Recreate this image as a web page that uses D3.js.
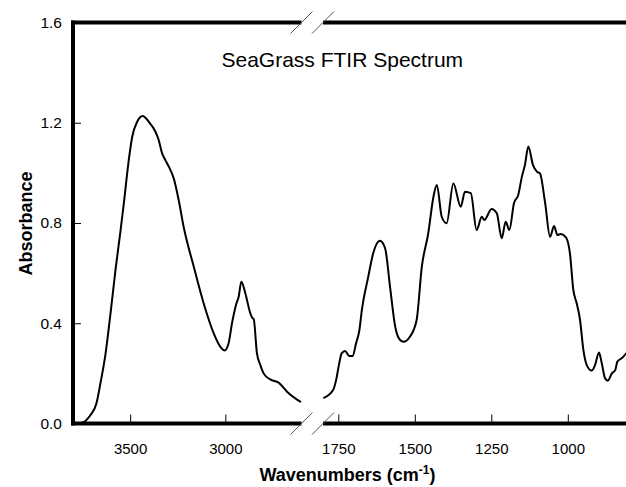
<!DOCTYPE html>
<html>
<head>
<meta charset="utf-8">
<script src="https://cdn.jsdelivr.net/npm/d3@7"></script>
<style>
  html, body { margin: 0; padding: 0; background: #fff; }
  svg { display: block; font-family: "Liberation Sans", Arial, sans-serif; }
</style>
</head>
<body>
<svg id="chart" width="626" height="487"></svg>
<script>
// ---- Data ----
const title = "SeaGrass FTIR Spectrum";
const yLabel = "Absorbance";
const yTicks = [0.0, 0.4, 0.8, 1.2, 1.6];
const leftTicks = [3500, 3000];
const rightTicks = [1750, 1500, 1250, 1000];

const leftWavenumbers = [3800, 3775, 3752, 3708, 3677, 3656, 3629, 3603, 3577, 3550, 3533, 3507, 3489, 3463, 3434,
  3402, 3367, 3350, 3332, 3315, 3297, 3271, 3245, 3219, 3166, 3114, 3061, 3026, 3004, 2983, 2965, 2944, 2930, 2916,
  2895, 2869, 2858, 2851, 2834, 2816, 2799, 2764, 2720, 2676, 2603];
const leftAbsorbance = [0.0, 0.0, 0.003, 0.034, 0.080, 0.160, 0.279, 0.439, 0.612, 0.772, 0.879, 1.052, 1.144, 1.204, 1.227,
  1.204, 1.164, 1.131, 1.078, 1.051, 1.025, 0.978, 0.892, 0.785, 0.626, 0.480, 0.360, 0.306, 0.291, 0.320, 0.400, 0.473, 0.506, 0.566,
  0.520, 0.440, 0.421, 0.417, 0.280, 0.233, 0.200, 0.176, 0.163, 0.127, 0.085];

const rightWavenumbers = [1799, 1766, 1757, 1747, 1739, 1728, 1714, 1703, 1692, 1681, 1673, 1652, 1636, 1614, 1597, 1581,
  1564, 1548, 1537, 1516, 1494, 1477, 1456, 1439, 1428, 1412, 1396, 1374, 1350, 1336, 1317, 1298, 1281, 1273, 1249,
  1232, 1216, 1203, 1191, 1176, 1162, 1150, 1140, 1129, 1114, 1101, 1091, 1074, 1058, 1045, 1034, 1023, 1006, 993,
  982, 971, 960, 949, 938, 922, 911, 898, 889, 878, 869, 856, 845, 838, 824, 809, 800];
const rightAbsorbance = [0.101, 0.136, 0.174, 0.240, 0.280, 0.289, 0.269, 0.269, 0.320, 0.373, 0.453, 0.586, 0.679, 0.729, 0.699, 0.546,
  0.386, 0.333, 0.326, 0.346, 0.413, 0.626, 0.759, 0.905, 0.952, 0.825, 0.799, 0.958, 0.865, 0.925, 0.919, 0.772, 0.825, 0.812, 0.856,
  0.839, 0.739, 0.805, 0.772, 0.879, 0.912, 0.985, 1.032, 1.105, 1.032, 1.005, 0.998, 0.879, 0.745, 0.788, 0.752, 0.756, 0.743, 0.679,
  0.533, 0.480, 0.413, 0.293, 0.233, 0.211, 0.233, 0.283, 0.240, 0.180, 0.171, 0.200, 0.213, 0.247, 0.260, 0.280, 0.292];

const leftSeries = leftWavenumbers.map((w, i) => ({ w, a: leftAbsorbance[i] }));
const rightSeries = rightWavenumbers.map((w, i) => ({ w, a: rightAbsorbance[i] }));

// ---- Layout ----
const svg = d3.select("#chart");
const yTop = 22.5, yBottom = 423.5;
const xLeftStart = 73, xLeftEnd = 301.5;
const xRightStart = 323, xRightEnd = 629;

const y = d3.scaleLinear().domain([0, 1.6]).range([yBottom, yTop]);
const xL = d3.scaleLinear().domain([3800, 2600]).range([xLeftStart, xLeftEnd]);
const xR = d3.scaleLinear().domain([1800, 800]).range([xRightStart, xRightEnd]);

// ---- Axes (ticks inward) ----
const tickFont = "15px";
const yAxis = d3.axisLeft(y).tickValues(yTicks).tickFormat(d3.format(".1f")).tickSize(-8).tickPadding(11);
const gy = svg.append("g").attr("transform", `translate(${xLeftStart},0)`).call(yAxis);
gy.select(".domain").remove();
gy.selectAll("text").attr("font-size", "15.5px").attr("fill", "#000").attr("font-family", "Liberation Sans, Arial, sans-serif");
gy.selectAll("line").attr("stroke", "#000");

function xAxis(scale, ticks) {
  const ax = d3.axisBottom(scale).tickValues(ticks).tickFormat(d3.format("d")).tickSize(-9).tickPadding(20);
  const g = svg.append("g").attr("transform", `translate(0,${yBottom})`).call(ax);
  g.select(".domain").remove();
  g.selectAll("text").attr("font-size", tickFont).attr("fill", "#000").attr("font-family", "Liberation Sans, Arial, sans-serif");
  g.selectAll("line").attr("stroke", "#000");
}
xAxis(xL, leftTicks);
xAxis(xR, rightTicks);

// ---- Frame (thick lines) ----
const frame = svg.append("g").attr("stroke", "#000").attr("stroke-width", 4).attr("fill", "none");
frame.append("line").attr("x1", xLeftStart).attr("x2", xLeftStart).attr("y1", yTop - 2).attr("y2", yBottom + 2);
[yTop, yBottom].forEach(yy => {
  frame.append("line").attr("x1", xLeftStart - 2).attr("x2", xLeftEnd).attr("y1", yy).attr("y2", yy);
  frame.append("line").attr("x1", xRightStart).attr("x2", 630).attr("y1", yy).attr("y2", yy);
});

// ---- Break marks ----
const brk = svg.append("g").attr("stroke", "#555").attr("stroke-width", 1);
[yTop, yBottom].forEach(yy => {
  [xLeftEnd, xRightStart].forEach(xx => {
    brk.append("line").attr("x1", xx - 11).attr("y1", yy + 11).attr("x2", xx + 11).attr("y2", yy - 11);
  });
});

// ---- Spectrum lines ----
const lineL = d3.line().x(d => xL(d.w)).y(d => y(d.a)).curve(d3.curveMonotoneX);
const lineR = d3.line().x(d => xR(d.w)).y(d => y(d.a)).curve(d3.curveMonotoneX);
svg.append("path").datum(leftSeries).attr("d", lineL)
  .attr("fill", "none").attr("stroke", "#000").attr("stroke-width", 2).attr("stroke-linejoin", "round");
svg.append("path").datum(rightSeries).attr("d", lineR)
  .attr("fill", "none").attr("stroke", "#000").attr("stroke-width", 2).attr("stroke-linejoin", "round");

// ---- Texts ----
svg.append("text").attr("x", 221.5).attr("y", 67).attr("font-size", "21px").attr("fill", "#000").text(title);

svg.append("text").attr("transform", "translate(32,223.5) rotate(-90)").attr("text-anchor", "middle")
  .attr("font-size", "18px").attr("font-weight", "bold").attr("fill", "#000").text(yLabel);

const xl = svg.append("text").attr("x", 347.5).attr("y", 481).attr("text-anchor", "middle")
  .attr("font-size", "18px").attr("font-weight", "bold").attr("fill", "#000");
xl.append("tspan").text("Wavenumbers (cm");
xl.append("tspan").attr("font-size", "12px").attr("dy", -7).text("-1");
xl.append("tspan").attr("dy", 7).text(")");
</script>
</body>
</html>
